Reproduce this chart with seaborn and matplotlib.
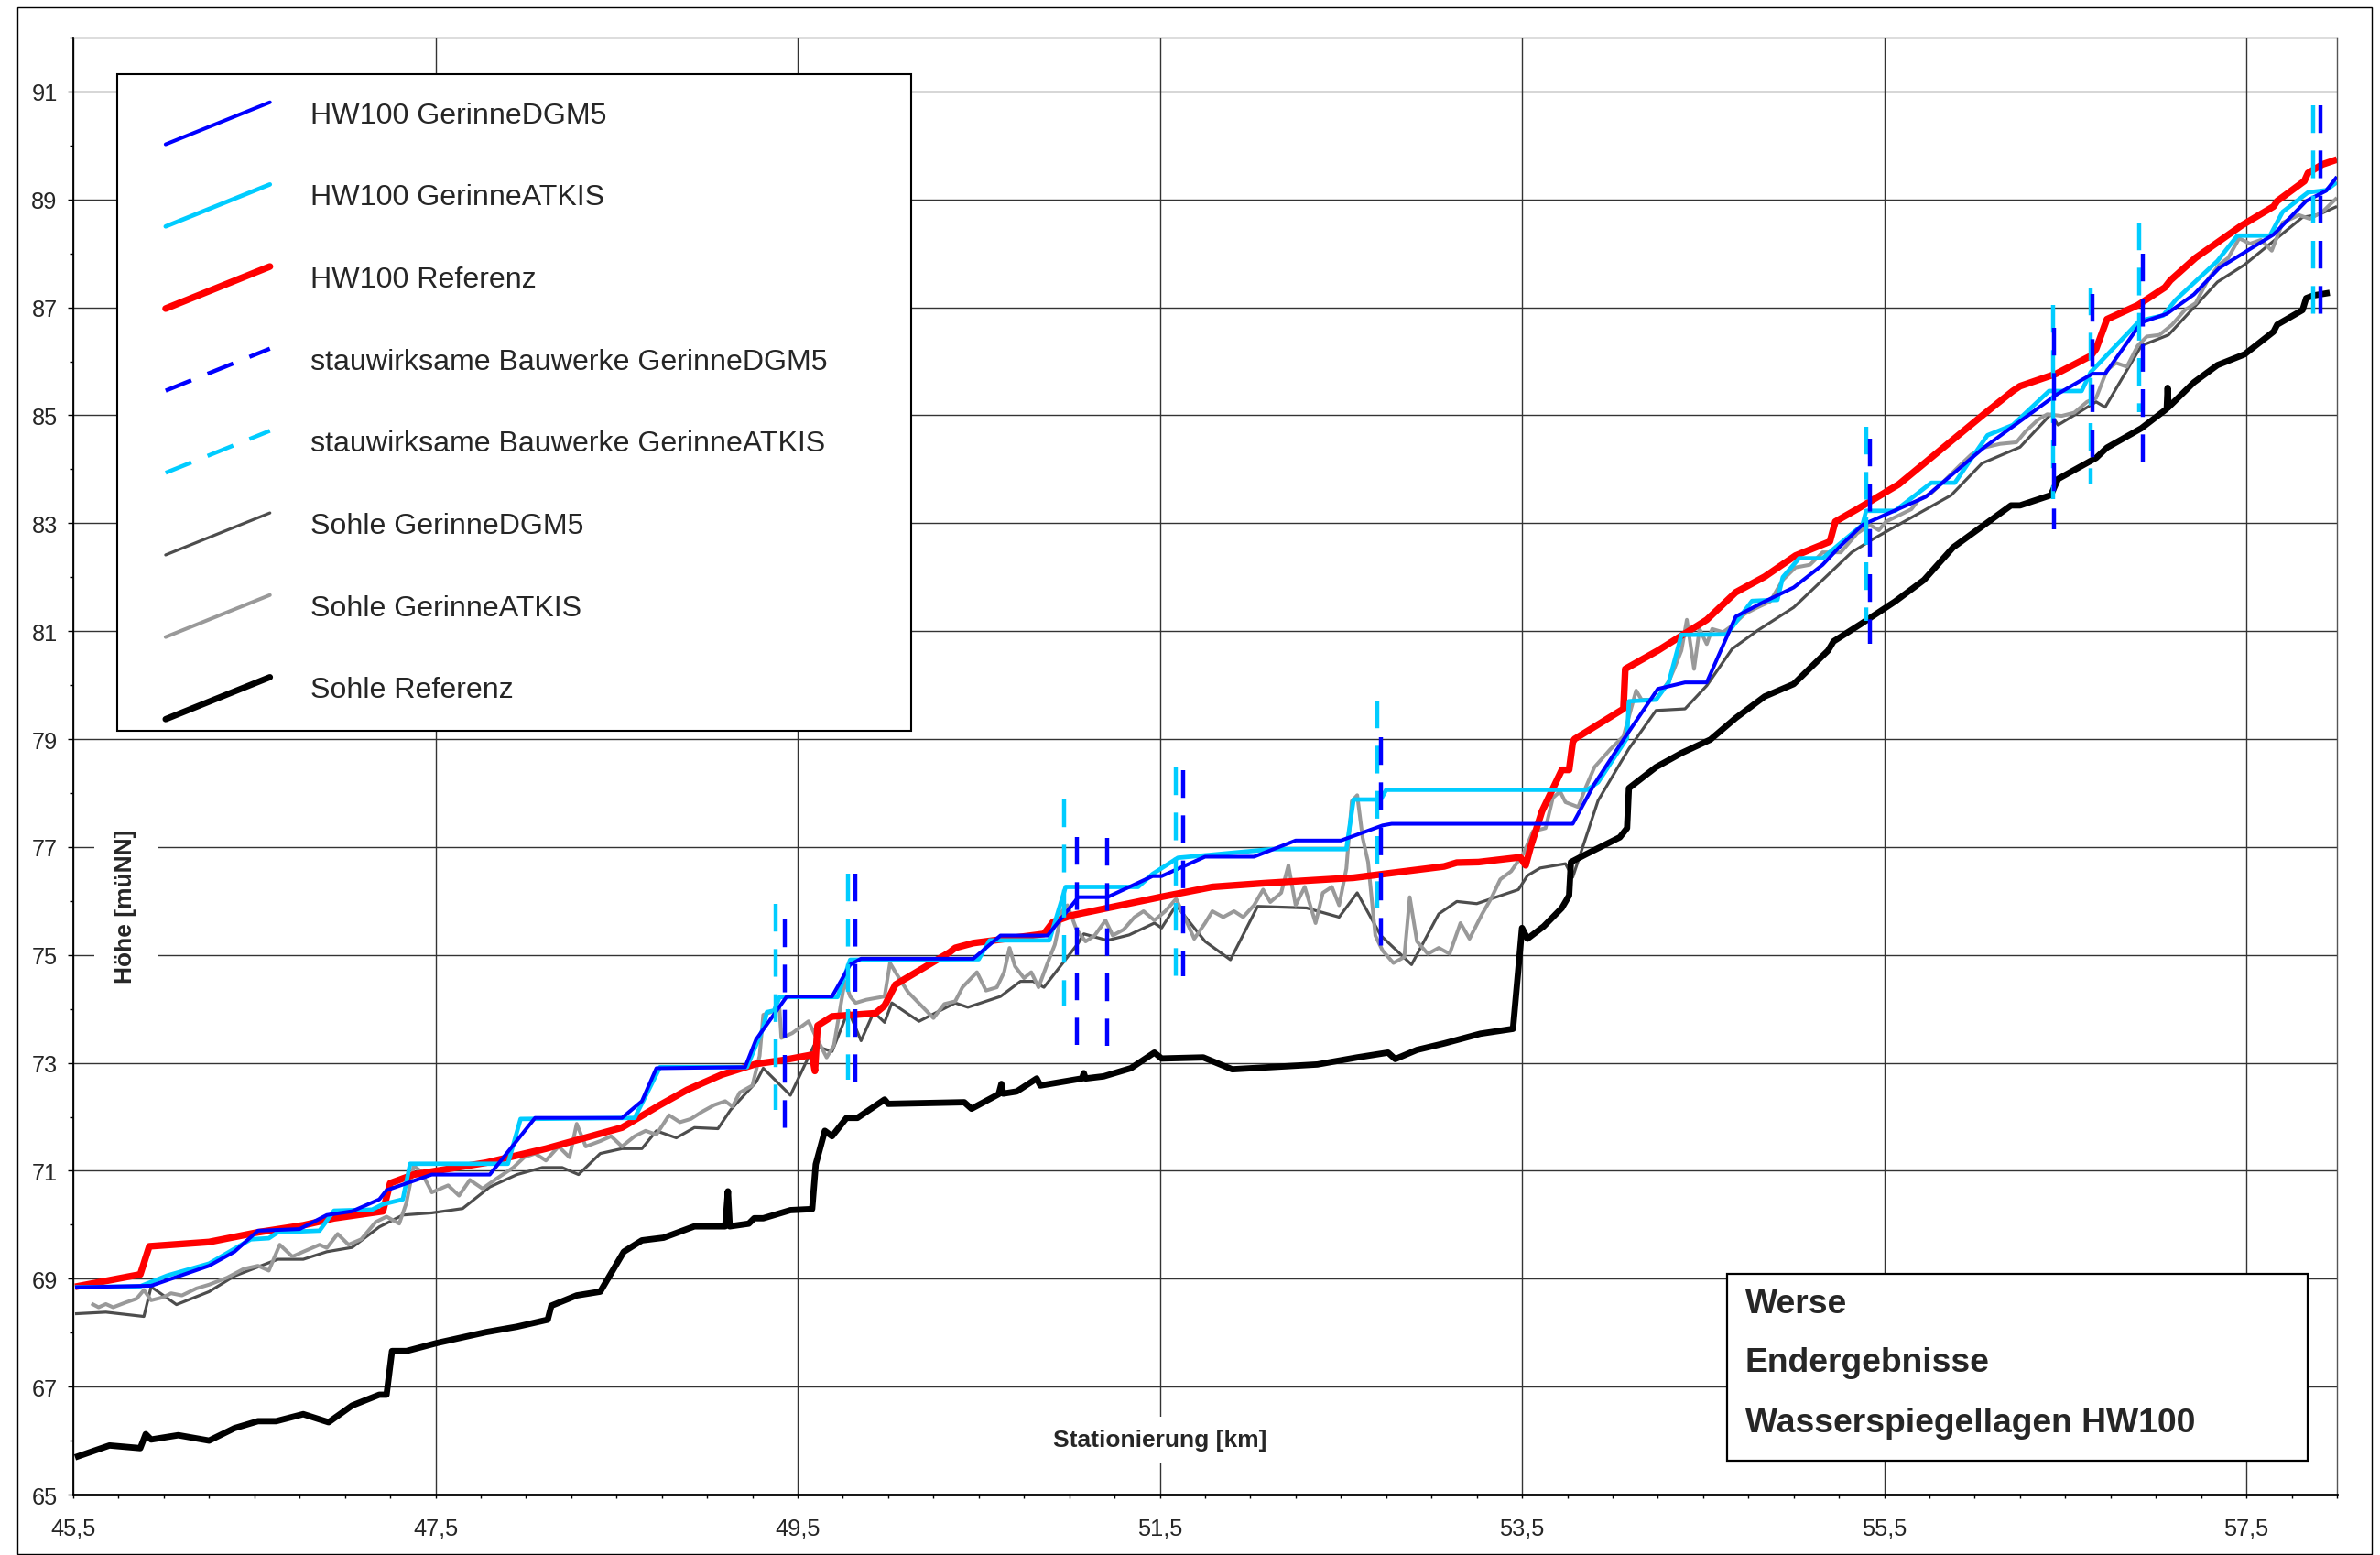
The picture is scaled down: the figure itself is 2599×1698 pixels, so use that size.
import numpy as np
import pandas as pd
import matplotlib
matplotlib.use("Agg")
import matplotlib.pyplot as plt
import seaborn as sns
from matplotlib.lines import Line2D
from matplotlib.legend_handler import HandlerBase
from matplotlib.patches import Rectangle

# ---------------- data ----------------
hw_ref_x = [45.51, 45.87, 45.92, 46.25, 46.52, 46.77, 46.94, 47.21, 47.25, 47.38, 47.78, 48.11, 48.53, 48.74,
            48.89, 49.08, 49.27, 49.42, 49.58, 49.595, 49.61, 49.69, 49.93, 49.98, 50.04, 50.34, 50.37, 50.47,
            50.86, 50.91, 51.01, 51.50, 51.79, 52.08, 52.57, 53.07, 53.14, 53.26, 53.49, 53.52, 53.55, 53.61,
            53.72, 53.76, 53.78, 53.79, 54.06, 54.07, 54.25, 54.52, 54.68, 54.84, 55.01, 55.20, 55.23, 55.35,
            55.58, 56.05, 56.21, 56.25, 56.45, 56.64, 56.67, 56.73, 56.90, 57.05, 57.08, 57.22, 57.47, 57.65,
            57.67, 57.82, 57.84, 57.92, 58.0]
hw_ref_y = [68.85, 69.08, 69.60, 69.68, 69.86, 69.99, 70.12, 70.25, 70.77, 70.93, 71.15, 71.41, 71.80, 72.22,
            72.50, 72.78, 72.98, 73.05, 73.15, 72.85, 73.69, 73.86, 73.92, 74.06, 74.45, 75.05, 75.13, 75.22,
            75.39, 75.61, 75.73, 76.07, 76.26, 76.33, 76.43, 76.64, 76.71, 76.72, 76.81, 76.66, 77.03, 77.66,
            78.43, 78.43, 78.94, 79.00, 79.56, 80.30, 80.64, 81.21, 81.72, 82.01, 82.40, 82.66, 83.03, 83.26,
            83.72, 85.02, 85.45, 85.54, 85.77, 86.10, 86.23, 86.78, 87.04, 87.37, 87.50, 87.92, 88.51, 88.87,
            88.97, 89.34, 89.49, 89.65, 89.74]

hw_dgm5_x = [45.51, 45.93, 46.25, 46.39, 46.52, 46.75, 46.90, 47.04, 47.19, 47.23, 47.48, 47.80, 48.05, 48.53,
             48.64, 48.72, 49.21, 49.27, 49.44, 49.69, 49.79, 49.85, 50.47, 50.62, 50.88, 51.05, 51.21, 51.46,
             51.51, 51.75, 52.02, 52.25, 52.50, 52.73, 52.78, 53.78, 53.90, 54.06, 54.25, 54.40, 54.52, 54.68,
             54.84, 55.00, 55.16, 55.25, 55.38, 55.73, 56.05, 56.25, 56.45, 56.65, 56.72, 56.92, 57.06, 57.21,
             57.35, 57.65, 57.83, 57.94, 58.0]
hw_dgm5_y = [68.84, 68.87, 69.24, 69.50, 69.89, 69.92, 70.18, 70.25, 70.47, 70.64, 70.93, 70.93, 71.98, 71.98,
             72.29, 72.90, 72.92, 73.43, 74.23, 74.23, 74.82, 74.93, 74.93, 75.36, 75.36, 76.07, 76.07, 76.46,
             76.46, 76.82, 76.82, 77.12, 77.12, 77.40, 77.43, 77.43, 78.17, 78.99, 79.93, 80.05, 80.05, 81.27,
             81.55, 81.81, 82.23, 82.55, 82.97, 83.49, 84.40, 84.89, 85.38, 85.77, 85.77, 86.72, 86.88, 87.24,
             87.73, 88.35, 88.97, 89.16, 89.42]

hw_atkis_x = [45.51, 45.87, 46.02, 46.25, 46.48, 46.58, 46.63, 46.86, 46.94, 47.15, 47.21, 47.32, 47.36, 47.90,
              47.97, 48.60, 48.74, 49.22, 49.31, 49.33, 49.37, 49.40, 49.72, 49.79, 50.50, 50.56, 50.89, 50.98,
              51.38, 51.46, 51.60, 52.12, 52.53, 52.57, 52.72, 52.75, 53.86, 53.92, 54.08, 54.09, 54.24, 54.31,
              54.38, 54.63, 54.77, 54.91, 54.94, 55.03, 55.16, 55.23, 55.38, 55.40, 55.56, 55.76, 55.89, 56.07,
              56.21, 56.41, 56.59, 56.64, 56.91, 57.04, 57.11, 57.34, 57.45, 57.63, 57.70, 57.84, 57.94, 58.0]
hw_atkis_y = [68.84, 68.86, 69.06, 69.28, 69.73, 69.75, 69.86, 69.89, 70.26, 70.28, 70.38, 70.47, 71.13, 71.13,
              71.96, 71.98, 72.92, 72.92, 73.65, 73.94, 73.97, 74.22, 74.22, 74.91, 74.92, 75.27, 75.27, 76.26,
              76.26, 76.50, 76.80, 76.96, 76.96, 77.88, 77.88, 78.06, 78.06, 78.20, 79.02, 79.70, 79.73, 80.05,
              80.93, 80.94, 81.56, 81.58, 82.00, 82.35, 82.35, 82.55, 82.97, 83.23, 83.23, 83.75, 83.75, 84.63,
              84.82, 85.45, 85.45, 85.80, 86.75, 86.85, 87.14, 87.86, 88.33, 88.33, 88.77, 89.13, 89.17, 89.32]

bw_dgm5_x = [49.43, 49.82, 51.04, 51.21, 51.63, 52.72, 55.42, 56.44, 56.65, 56.93, 57.91]
bw_dgm5_lo = [71.78, 72.62, 73.33, 73.32, 74.60, 75.16, 80.77, 82.88, 84.15, 84.14, 86.87]
bw_dgm5_hi = [75.66, 76.50, 77.18, 77.17, 78.42, 79.03, 84.56, 86.62, 87.24, 87.99, 90.74]

bw_atkis_x = [49.38, 49.78, 50.97, 51.59, 52.70, 55.40, 56.43, 56.64, 56.91, 57.87]
bw_atkis_lo = [72.13, 72.68, 74.04, 74.60, 75.86, 81.19, 83.44, 83.72, 85.06, 86.87]
bw_atkis_hi = [75.95, 76.50, 77.88, 78.47, 79.71, 84.79, 87.04, 87.37, 88.58, 90.74]

sohle_dgm5_x = [45.51, 45.68, 45.89, 45.93, 46.07, 46.25, 46.39, 46.63, 46.77, 46.90, 47.04, 47.19, 47.32, 47.48,
                47.65, 47.80, 47.95, 48.09, 48.20, 48.29, 48.41, 48.53, 48.64, 48.72, 48.83, 48.93, 49.06, 49.13,
                49.27, 49.31, 49.46, 49.59, 49.69, 49.78, 49.85, 49.92, 49.98, 50.02, 50.17, 50.37, 50.44, 50.62,
                50.73, 50.80, 50.86, 51.05, 51.08, 51.21, 51.33, 51.47, 51.51, 51.59, 51.75, 51.89, 52.04, 52.31,
                52.49, 52.59, 52.72, 52.89, 53.04, 53.14, 53.25, 53.48, 53.53, 53.60, 53.74, 53.78, 53.92, 54.04,
                54.09, 54.24, 54.40, 54.52, 54.66, 54.80, 55.00, 55.16, 55.32, 55.44, 55.87, 56.04, 56.25, 56.42,
                56.46, 56.67, 56.72, 56.92, 57.07, 57.34, 57.49, 57.81, 57.90, 58.0]
sohle_dgm5_y = [68.35, 68.38, 68.30, 68.85, 68.52, 68.76, 69.05, 69.36, 69.36, 69.50, 69.58, 69.96, 70.18, 70.22,
                70.30, 70.70, 70.93, 71.06, 71.06, 70.93, 71.32, 71.41, 71.41, 71.74, 71.61, 71.80, 71.78, 72.13,
                72.64, 72.90, 72.40, 73.32, 73.21, 73.97, 73.41, 73.94, 73.75, 74.11, 73.77, 74.11, 74.03, 74.23,
                74.51, 74.51, 74.40, 75.22, 75.39, 75.27, 75.37, 75.59, 75.50, 75.92, 75.25, 74.91, 75.90, 75.87,
                75.70, 76.15, 75.36, 74.82, 75.76, 75.99, 75.95, 76.21, 76.47, 76.61, 76.69, 76.44, 77.86, 78.54,
                78.82, 79.53, 79.56, 79.99, 80.67, 81.01, 81.44, 81.95, 82.46, 82.71, 83.52, 84.11, 84.41, 85.02,
                84.82, 85.25, 85.15, 86.29, 86.49, 87.47, 87.79, 88.67, 88.72, 88.87]

sohle_atkis_x = [45.60, 45.64, 45.68, 45.72, 45.79, 45.85, 45.89, 45.93, 46.00, 46.04, 46.10, 46.18, 46.25, 46.35,
                 46.44, 46.52, 46.58, 46.64, 46.71, 46.77, 46.86, 46.90, 46.96, 47.02, 47.09, 47.17, 47.23, 47.30,
                 47.34, 47.38, 47.42, 47.48, 47.57, 47.63, 47.69, 47.76, 47.84, 47.93, 47.99, 48.05, 48.11, 48.18,
                 48.24, 48.28, 48.33, 48.41, 48.47, 48.53, 48.60, 48.66, 48.72, 48.79, 48.85, 48.91, 48.97, 49.04,
                 49.10, 49.14, 49.18, 49.25, 49.29, 49.31, 49.40, 49.41, 49.47, 49.56, 49.60, 49.66, 49.70, 49.76,
                 49.79, 49.82, 49.88, 49.98, 50.01, 50.04, 50.11, 50.20, 50.25, 50.31, 50.37, 50.41, 50.49, 50.54,
                 50.60, 50.64, 50.67, 50.70, 50.75, 50.79, 50.83, 50.88, 50.92, 50.96, 50.99, 51.04, 51.09, 51.14,
                 51.20, 51.24, 51.30, 51.36, 51.41, 51.47, 51.53, 51.59, 51.63, 51.69, 51.75, 51.79, 51.85, 51.91,
                 51.96, 52.02, 52.07, 52.11, 52.17, 52.21, 52.25, 52.30, 52.36, 52.40, 52.45, 52.49, 52.53, 52.56,
                 52.59, 52.62, 52.65, 52.69, 52.73, 52.79, 52.85, 52.88, 52.92, 52.98, 53.04, 53.10, 53.16, 53.21,
                 53.28, 53.33, 53.38, 53.44, 53.51, 53.56, 53.63, 53.67, 53.71, 53.74, 53.81, 53.85, 53.90, 53.99,
                 54.06, 54.13, 54.16, 54.24, 54.31, 54.34, 54.38, 54.41, 54.45, 54.48, 54.52, 54.55, 54.61, 54.66,
                 54.73, 54.80, 54.87, 54.94, 55.01, 55.09, 55.16, 55.26, 55.35, 55.42, 55.47, 55.51, 55.59, 55.65,
                 55.69, 55.76, 55.83, 55.92, 55.98, 56.05, 56.14, 56.23, 56.28, 56.35, 56.40, 56.48, 56.55, 56.62,
                 56.67, 56.73, 56.78, 56.84, 56.90, 56.95, 57.02, 57.09, 57.16, 57.22, 57.29, 57.35, 57.40, 57.46,
                 57.52, 57.58, 57.64, 57.70, 57.79, 57.85, 57.92, 58.00]
sohle_atkis_y = [68.54, 68.47, 68.53, 68.47, 68.56, 68.63, 68.79, 68.60, 68.66, 68.73, 68.69, 68.82, 68.89, 69.02,
                 69.18, 69.24, 69.15, 69.63, 69.41, 69.50, 69.63, 69.57, 69.83, 69.63, 69.73, 70.05, 70.15, 70.02,
                 70.41, 71.09, 70.99, 70.60, 70.73, 70.54, 70.83, 70.67, 70.86, 71.06, 71.25, 71.32, 71.19, 71.45,
                 71.25, 71.87, 71.45, 71.55, 71.64, 71.45, 71.64, 71.74, 71.67, 72.03, 71.90, 71.96, 72.09, 72.22,
                 72.29, 72.19, 72.45, 72.58, 73.13, 73.89, 74.00, 73.46, 73.55, 73.77, 73.49, 73.10, 73.32, 74.51,
                 74.23, 74.11, 74.17, 74.23, 74.85, 74.68, 74.31, 74.00, 73.83, 74.09, 74.14, 74.40, 74.68, 74.34,
                 74.40, 74.68, 75.13, 74.79, 74.57, 74.68, 74.40, 74.85, 75.19, 75.81, 75.92, 75.47, 75.25, 75.36,
                 75.64, 75.36, 75.47, 75.70, 75.81, 75.64, 75.81, 76.04, 75.75, 75.30, 75.59, 75.81, 75.70, 75.81,
                 75.70, 75.92, 76.21, 75.98, 76.15, 76.66, 75.92, 76.26, 75.59, 76.15, 76.26, 75.92, 76.60, 77.85,
                 77.96, 77.17, 76.72, 75.36, 75.08, 74.85, 74.96, 76.07, 75.25, 75.02, 75.13, 75.02, 75.59, 75.30,
                 75.76, 76.05, 76.40, 76.55, 76.89, 77.29, 77.35, 77.91, 78.03, 77.83, 77.74, 78.09, 78.48, 78.82,
                 79.05, 79.90, 79.73, 79.73, 80.07, 80.30, 80.64, 81.21, 80.30, 81.04, 80.76, 81.04, 80.98, 81.10,
                 81.32, 81.44, 81.55, 81.95, 82.18, 82.23, 82.46, 82.46, 82.81, 82.97, 82.87, 83.03, 83.16, 83.26,
                 83.43, 83.56, 83.78, 84.08, 84.27, 84.40, 84.47, 84.50, 84.70, 84.92, 85.02, 84.99, 85.05, 85.25,
                 85.32, 85.84, 85.97, 85.90, 86.29, 86.46, 86.49, 86.68, 86.95, 87.08, 87.53, 87.79, 87.92, 88.28,
                 88.18, 88.25, 88.05, 88.57, 88.71, 88.64, 88.77, 89.03]

sohle_ref_x = [45.51, 45.70, 45.87, 45.90, 45.93, 46.08, 46.25, 46.39, 46.52, 46.62, 46.77, 46.91, 47.04, 47.19,
               47.23, 47.26, 47.34, 47.51, 47.78, 47.95, 48.12, 48.14, 48.28, 48.41, 48.54, 48.64, 48.76, 48.93,
               49.10, 49.115, 49.125, 49.23, 49.26, 49.31, 49.46, 49.58, 49.60, 49.65, 49.69, 49.77, 49.83, 49.98,
               50.00, 50.42, 50.46, 50.61, 50.625, 50.635, 50.71, 50.82, 50.84, 51.07, 51.08, 51.09, 51.19, 51.34,
               51.47, 51.51, 51.74, 51.90, 52.11, 52.37, 52.59, 52.76, 52.80, 52.92, 53.07, 53.27, 53.45, 53.50,
               53.53, 53.62, 53.72, 53.76, 53.77, 53.85, 54.04, 54.08, 54.09, 54.24, 54.38, 54.54, 54.68, 54.84,
               55.00, 55.19, 55.22, 55.37, 55.56, 55.72, 55.88, 56.20, 56.25, 56.42, 56.46, 56.67, 56.73, 56.92,
               57.06, 57.065, 57.07, 57.21, 57.34, 57.49, 57.65, 57.67, 57.81, 57.83, 57.87, 57.96]
sohle_ref_y = [65.69, 65.91, 65.86, 66.12, 66.02, 66.10, 66.00, 66.23, 66.36, 66.36, 66.49, 66.34, 66.65, 66.85,
               66.85, 67.66, 67.66, 67.81, 68.01, 68.11, 68.24, 68.50, 68.69, 68.76, 69.50, 69.71, 69.76, 69.97,
               69.97, 70.62, 69.97, 70.02, 70.12, 70.12, 70.27, 70.29, 71.12, 71.74, 71.64, 71.98, 71.98, 72.32,
               72.24, 72.27, 72.15, 72.42, 72.61, 72.43, 72.47, 72.71, 72.58, 72.71, 72.81, 72.71, 72.75, 72.90,
               73.19, 73.08, 73.10, 72.88, 72.92, 72.97, 73.10, 73.19, 73.07, 73.24, 73.36, 73.54, 73.63, 75.50,
               75.30, 75.53, 75.87, 76.10, 76.72, 76.86, 77.18, 77.35, 78.09, 78.48, 78.74, 78.99, 79.39, 79.79,
               80.02, 80.64, 80.81, 81.13, 81.55, 81.95, 82.55, 83.33, 83.33, 83.52, 83.82, 84.21, 84.40, 84.76,
               85.12, 85.51, 85.15, 85.61, 85.93, 86.13, 86.55, 86.68, 86.95, 87.17, 87.22, 87.27]

series_labels = ["HW100 GerinneDGM5", "HW100 GerinneATKIS", "HW100 Referenz",
                 "stauwirksame Bauwerke GerinneDGM5", "stauwirksame Bauwerke GerinneATKIS",
                 "Sohle GerinneDGM5", "Sohle GerinneATKIS", "Sohle Referenz"]
xtick_values = [45.5, 47.5, 49.5, 51.5, 53.5, 55.5, 57.5]
xtick_labels = ["45,5", "47,5", "49,5", "51,5", "53,5", "55,5", "57,5"]
ytick_values = [65, 67, 69, 71, 73, 75, 77, 79, 81, 83, 85, 87, 89, 91]
info_lines = ["Werse", "Endergebnisse", "Wasserspiegellagen HW100"]

# ---------------- style ----------------
sns.set_theme(style="white")
plt.rcParams['font.family'] = ['Liberation Sans', 'DejaVu Sans']

C_BLUE, C_CYAN, C_RED = "#0000FF", "#00CCFF", "#FF0000"
C_DGRAY, C_LGRAY, C_BLACK = "#4D4D4D", "#999999", "#000000"
DASH = (0, (6.8, 4.3))

styles = [
    dict(color=C_BLUE, lw=2.9, ls="-", z=2.6),
    dict(color=C_CYAN, lw=3.4, ls="-", z=2.5),
    dict(color=C_RED, lw=5.3, ls="-", z=2.4),
    dict(color=C_BLUE, lw=3.2, ls=DASH, z=2.8),
    dict(color=C_CYAN, lw=3.2, ls=DASH, z=2.7),
    dict(color=C_DGRAY, lw=2.3, ls="-", z=2.1),
    dict(color=C_LGRAY, lw=2.9, ls="-", z=2.2),
    dict(color=C_BLACK, lw=4.9, ls="-", z=2.3),
]

fig = plt.figure(figsize=(25.99, 16.99), dpi=100)
ax = fig.add_axes([80 / 2599, 1 - 1633 / 1699, (2552 - 80) / 2599, (1633 - 42) / 1699])
ax.set_facecolor("white")

line_series = {
    0: (hw_dgm5_x, hw_dgm5_y),
    1: (hw_atkis_x, hw_atkis_y),
    2: (hw_ref_x, hw_ref_y),
    5: (sohle_dgm5_x, sohle_dgm5_y),
    6: (sohle_atkis_x, sohle_atkis_y),
    7: (sohle_ref_x, sohle_ref_y),
}
for i, (xs, ys) in line_series.items():
    st = styles[i]
    df = pd.DataFrame({"x": xs, "y": ys})
    sns.lineplot(data=df, x="x", y="y", sort=False, estimator=None, ax=ax,
                 color=st["color"], lw=st["lw"], zorder=st["z"], legend=False,
                 solid_joinstyle="round", solid_capstyle="butt")

for i, (xs, lo, hi) in {3: (bw_dgm5_x, bw_dgm5_lo, bw_dgm5_hi),
                        4: (bw_atkis_x, bw_atkis_lo, bw_atkis_hi)}.items():
    st = styles[i]
    rows = []
    for k, (xv, a, b) in enumerate(zip(xs, lo, hi)):
        rows.append({"x": xv, "y": b, "u": k})
        rows.append({"x": xv, "y": a, "u": k})
    df = pd.DataFrame(rows)
    sns.lineplot(data=df, x="x", y="y", units="u", sort=False, estimator=None, ax=ax,
                 color=st["color"], lw=st["lw"], linestyle=st["ls"], zorder=st["z"], legend=False)

ax.set_xlim(45.5, 58.0)
ax.set_ylim(65, 92)
ax.set_xlabel("")
ax.set_ylabel("")
ax.set_xticks(xtick_values)
ax.set_xticklabels(xtick_labels)
ax.set_xticks(np.arange(45.5, 58.001, 0.25), minor=True)
ax.set_yticks(ytick_values)
ax.set_yticklabels([str(v) for v in ytick_values])
ax.set_yticks(np.arange(66, 92.5, 2), minor=True)

ax.tick_params(axis="x", which="major", direction="out", length=3, width=1, color="black",
               labelsize=18.3, pad=15, bottom=True)
ax.tick_params(axis="x", which="minor", direction="out", length=3, width=1, color="black", bottom=True)
ax.tick_params(axis="y", which="major", direction="out", length=4.5, width=1, color="black",
               labelsize=18.3, pad=8, left=True)
ax.tick_params(axis="y", which="minor", direction="out", length=3, width=1, color="black", left=True)

ax.grid(True, which="major", color="#333333", lw=1.0)
ax.set_axisbelow(True)
for side in ["top", "right"]:
    ax.spines[side].set_color("#555555")
    ax.spines[side].set_linewidth(1.0)
ax.spines["left"].set_color("black")
ax.spines["left"].set_linewidth(1.3)
ax.spines["bottom"].set_color("black")
ax.spines["bottom"].set_linewidth(2.0)

# axis titles inside plot
ax.text(51.5, 66.02, "Stationierung [km]", ha="center", va="center", fontsize=19,
        fontweight="bold", zorder=3, bbox=dict(boxstyle="square,pad=0.5", fc="white", ec="none"))
ax.text(45.79, 75.92, "Höhe [müNN]", ha="center", va="center", fontsize=19, rotation=90,
        fontweight="bold", zorder=3, bbox=dict(boxstyle="square,pad=0.85", fc="white", ec="none"))


# ---------------- legend with slanted samples ----------------
class DiagHandler(HandlerBase):
    def create_artists(self, legend, orig_handle, xdescent, ydescent, width, height, fontsize, trans):
        x0 = -xdescent + 0.16 * width
        x1 = -xdescent + 0.94 * width
        y0 = -ydescent - 0.75 * fontsize
        y1 = -ydescent + 0.68 * fontsize
        ln = Line2D([x0, x1], [y0, y1])
        ln.update_from(orig_handle)
        ln.set_transform(trans)
        return [ln]


handles = [Line2D([], [], color=st["color"], lw=st["lw"], ls=st["ls"]) for st in styles]
leg = ax.legend(handles, series_labels, loc="upper left",
                bbox_to_anchor=(128 / 2599, 1 - 82 / 1699, (995 - 128) / 2599, 0),
                bbox_transform=fig.transFigure, mode="expand", borderaxespad=0,
                fontsize=23.1, labelspacing=1.86, handlelength=4.55, handletextpad=1.1,
                borderpad=0.92, frameon=True, fancybox=False, framealpha=1,
                edgecolor="black", handler_map={Line2D: DiagHandler()})
leg.get_frame().set_linewidth(1.5)
leg.set_zorder(5)

# ---------------- info box ----------------
fig.patches.append(Rectangle((1886 / 2599, 1 - 1596 / 1699), 634 / 2599, 204 / 1699,
                             transform=fig.transFigure, fc="white", ec="black", lw=1.6, zorder=6))
for k, (txt, py) in enumerate(zip(info_lines, [1425, 1489, 1554])):
    fig.text(1906 / 2599, 1 - py / 1699, txt, ha="left", va="center", fontsize=26.8,
             fontweight="bold", zorder=7)

# outer frame
fig.patches.append(Rectangle((19 / 2599, 0.0006), 2571 / 2599, 1 - 9 / 1699 - 0.0006,
                             transform=fig.transFigure, fill=False, ec="black", lw=1.0, zorder=0))

fig.savefig("out.png", dpi=100, facecolor="white")
